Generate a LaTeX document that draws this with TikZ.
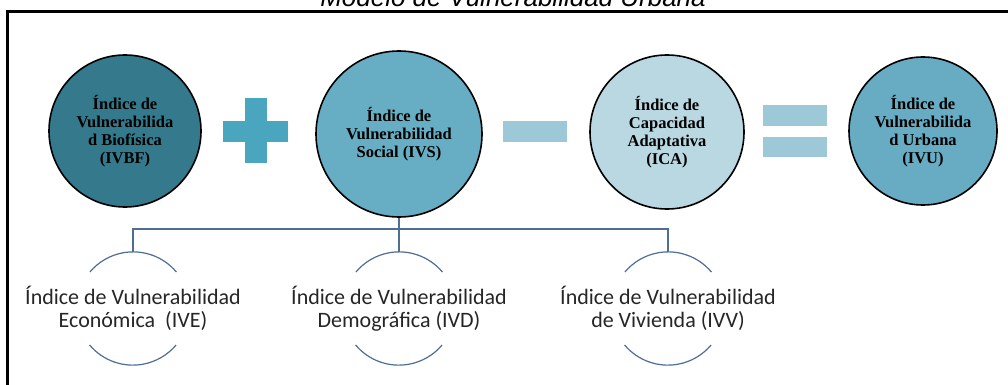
\documentclass[tikz,border=0pt]{standalone}
\usepackage{fontspec}
\setmainfont{Liberation Serif}
\newfontfamily\calibrif{Carlito}
\newfontfamily\arialf{Liberation Sans}
\definecolor{cbf}{RGB}{52,122,140}
\definecolor{cvs}{RGB}{103,174,196}
\definecolor{cca}{RGB}{186,216,226}
\definecolor{cvu}{RGB}{104,172,196}
\definecolor{cplus}{RGB}{74,166,190}
\definecolor{cminus}{RGB}{157,200,215}
\definecolor{cline}{RGB}{79,110,148}
\definecolor{ctext}{RGB}{38,38,38}
\begin{document}
\begin{tikzpicture}[x=1pt,y=-1pt,
  bigcirc/.style={circle,draw=black,line width=1.6pt,inner sep=0pt,align=center,
    font=\bfseries\fontsize{16.5}{17.8}\selectfont},
  childtext/.style={inner sep=0pt,align=center,
    font=\calibrif\fontsize{22}{23.5}\selectfont,text=ctext},
  childring/.style={circle,inner sep=0pt,minimum size=113pt},
  arcline/.style={draw=cline,line width=1.2pt},
  busline/.style={draw=cline,line width=1.2pt}]
\useasboundingbox (0,0) rectangle (1008,385);
\clip (0,0) rectangle (1008,385);
\fill[white] (0,0) rectangle (1008,385);
% frame
\draw[line width=3pt] (1015,11.5) -- (7.5,11.5) -- (7.5,395);
% title
\node[anchor=base,font=\arialf\itshape\fontsize{26}{30}\selectfont,inner sep=0pt] (title) at (513,6.7) {Modelo de Vulnerabilidad Urbana};
% circles
\node[bigcirc,fill=cbf,minimum size=152pt] (ivbf) at (125,131) {Índice de\\Vulnerabilida\\d Biofísica\\(IVBF)};
\node[bigcirc,fill=cvs,minimum size=166pt] (ivs) at (399,134) {Índice de\\Vulnerabilidad\\Social (IVS)};
\node[bigcirc,fill=cca,minimum size=154pt] (ica) at (667,132) {Índice de\\Capacidad\\Adaptativa\\(ICA)};
\node[bigcirc,fill=cvu,minimum size=148pt] (ivu) at (923,131) {Índice de\\Vulnerabilida\\d Urbana\\(IVU)};
% operators
\fill[cplus] (223,121) rectangle (288,142);
\fill[cplus] (245,98) rectangle (267,163);
\fill[cminus] (503,121) rectangle (567,142);
\fill[cminus] (763,105) rectangle (827,126);
\fill[cminus] (763,137) rectangle (827,157);
% children
\node[childring] (ivec) at (133,308.5) {};
\node[childring] (ivdc) at (399,308.5) {};
\node[childring] (ivvc) at (668,308.5) {};
\node[childtext] (ive) at (ivec.center) {Índice de Vulnerabilidad\\Económica\ \ (IVE)};
\node[childtext] (ivd) at (ivdc.center) {Índice de Vulnerabilidad\\Demográfica (IVD)};
\node[childtext] (ivv) at (ivvc.center) {Índice de Vulnerabilidad\\de Vivienda (IVV)};
\foreach \n in {ivec,ivdc,ivvc}{
  \draw[arcline] (\n.40) arc[start angle=40,end angle=140,radius=56.5pt];
  \draw[arcline] (\n.220) arc[start angle=220,end angle=320,radius=56.5pt];
}
% tree connector
\coordinate (bus) at (133,229);
\draw[busline] (ivs.south) -- (ivdc.north);
\draw[busline] (ivec.north) -- (ivec.north |- bus) -- (ivvc.north |- bus) -- (ivvc.north);
\end{tikzpicture}
\end{document}
